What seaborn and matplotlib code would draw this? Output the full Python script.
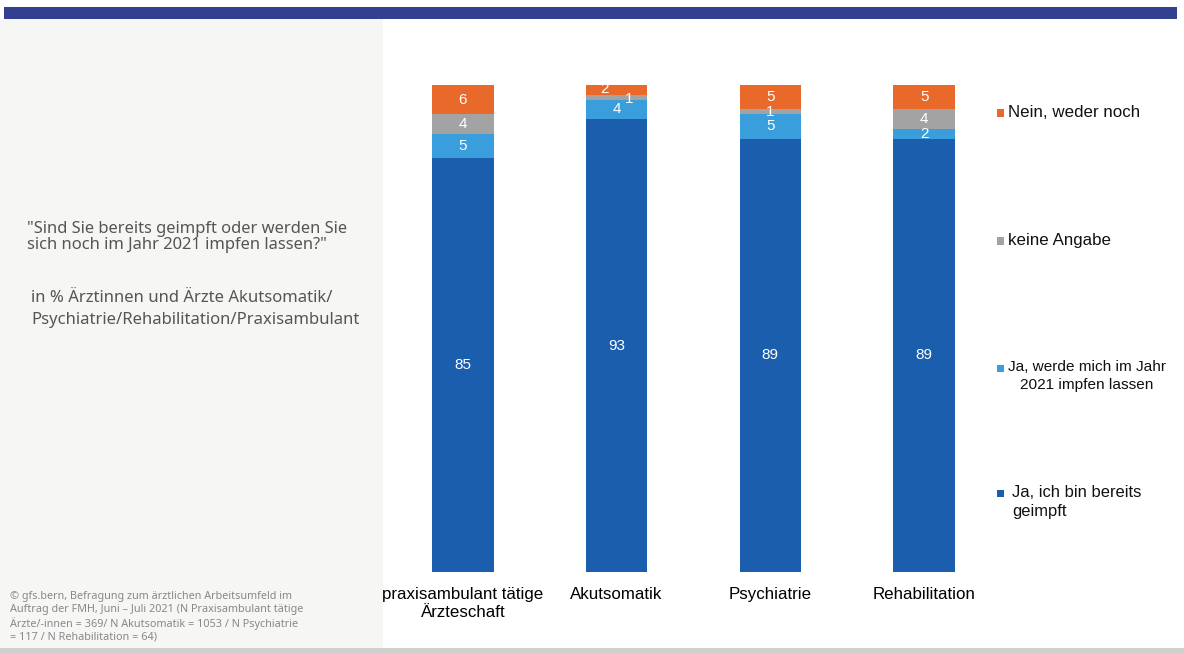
import matplotlib
matplotlib.use("Agg")
import matplotlib.pyplot as plt
from matplotlib.patches import Rectangle
import seaborn as sns
import pandas as pd
import numpy as np

categories = ["praxisambulant tätige\nÄrzteschaft", "Akutsomatik", "Psychiatrie", "Rehabilitation"]
geimpft = [85, 93, 89, 89]
werde_impfen = [5, 4, 5, 2]
keine_angabe = [4, 1, 1, 4]
nein = [6, 2, 5, 5]

series_names = ["Ja, ich bin bereits\ngeimpft", "Ja, werde mich im Jahr\n2021 impfen lassen",
                "keine Angabe", "Nein, weder noch"]
series_values = [geimpft, werde_impfen, keine_angabe, nein]
colors = ["#1B5EAD", "#3A9EDC", "#A3A3A3", "#E8692A"]

sns.set_theme(style="white")
plt.rcParams["font.family"] = ["Liberation Sans", "DejaVu Sans"]

W, H = 1184, 653
fig = plt.figure(figsize=(W / 100, H / 100), dpi=100)
fig.patch.set_facecolor("white")

# background decorations
fig.patches.append(Rectangle((0, 5 / H), 383 / W, (648 - 19) / H, transform=fig.transFigure,
                             facecolor="#F6F6F5", edgecolor="none", zorder=0))
fig.patches.append(Rectangle((4 / W, (H - 19) / H), (1177 - 4) / W, 12 / H, transform=fig.transFigure,
                             facecolor="#33408F", edgecolor="none", zorder=0))
fig.patches.append(Rectangle((0, 0), 1, 5 / H, transform=fig.transFigure,
                             facecolor="#D0D0D0", edgecolor="none", zorder=0))

ax = fig.add_axes([386 / W, 81 / H, 615 / W, 487 / H])
ax.set_facecolor("none")

cum = np.cumsum(np.array(series_values), axis=0)
# draw from top layer down so lower layers overlay
for i in range(len(series_values) - 1, -1, -1):
    df = pd.DataFrame({"cat": categories, "val": cum[i]})
    sns.barplot(data=df, x="cat", y="val", color=colors[i], width=0.4,
                saturation=1, ax=ax, order=categories, linewidth=0, edgecolor="none")

# value labels
for j in range(len(categories)):
    for i in range(len(series_values)):
        v = series_values[i][j]
        base = cum[i][j] - v
        y = base + v / 2
        dx = 0
        if j == 1 and i == 3:
            dx = -0.08
            y += 0.2
        if j == 1 and i == 2:
            dx = 0.08
            y -= 0.3
        ax.text(j + dx, y, str(v), ha="center", va="center", color="white", fontsize=11)

ax.set_xlim(-0.5, 3.5)
ax.set_ylim(0, 100)
ax.set_xlabel("")
ax.set_ylabel("")
ax.set_yticks([])
ax.tick_params(axis="x", length=0, labelsize=12.2, pad=11, colors="black")
for lbl in ax.get_xticklabels():
    lbl.set_linespacing(1.25)
for s in ax.spines.values():
    s.set_visible(False)

# legend
leg_items = [(3, 113, 12.2, "left"), (2, 241, 12.2, "left"), (1, 368, 11.1, "center"), (0, 493, 11.9, "left")]
for idx, ypix, fs, malign in leg_items:
    fig.patches.append(Rectangle((997 / W, (H - ypix - 3.5) / H), 7 / W, 7 / H,
                                 transform=fig.transFigure, facecolor=colors[idx],
                                 edgecolor="none"))
    xt = 1008 if idx != 0 else 1012
    fig.text(xt / W, (H - ypix + 8) / H, series_names[idx], ha="left", va="top",
             fontsize=fs, color="#111111", linespacing=1.35, multialignment=malign)

left_font = ["Noto Sans", "DejaVu Sans"]
fig.text(27 / W, (H - 237) / H,
         "\"Sind Sie bereits geimpft oder werden Sie\nsich noch im Jahr 2021 impfen lassen?\"",
         ha="left", va="center", fontsize=11.9, color="#555555", family=left_font, linespacing=1.05)
fig.text(31 / W, (H - 309) / H,
         "in % Ärztinnen und Ärzte Akutsomatik/\nPsychiatrie/Rehabilitation/Praxisambulant",
         ha="left", va="center", fontsize=12.0, color="#555555", family=left_font, linespacing=1.5)
fig.text(10 / W, (H - 617) / H,
         "© gfs.bern, Befragung zum ärztlichen Arbeitsumfeld im\n"
         "Auftrag der FMH, Juni – Juli 2021 (N Praxisambulant tätige\n"
         "Ärzte/-innen = 369/ N Akutsomatik = 1053 / N Psychiatrie\n"
         "= 117 / N Rehabilitation = 64)",
         ha="left", va="center", fontsize=7.8, color="#888888", family=left_font, linespacing=1.22)

fig.savefig("out.png", dpi=100, facecolor="white")
